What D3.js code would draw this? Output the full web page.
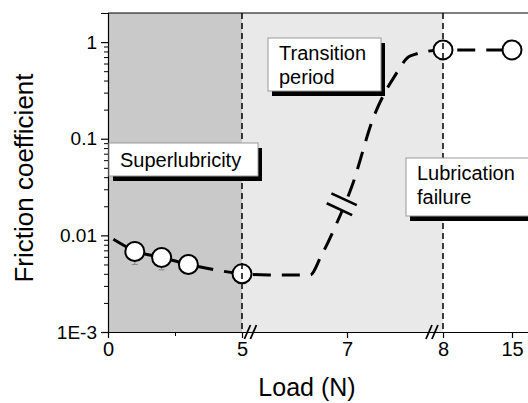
<!DOCTYPE html>
<html>
<head>
<meta charset="utf-8">
<script src="https://cdn.jsdelivr.net/npm/d3@7/dist/d3.min.js"></script>
<style>
  body { margin: 0; background: #fff; }
  svg { display: block; font-family: "Liberation Sans", Arial, sans-serif; }
</style>
</head>
<body>
<div id="chart"></div>
<script>
// Measured points (load in N, friction coefficient)
const loads = [1, 2, 3, 5, 8, 15];
const friction = [0.0068, 0.0059, 0.0050, 0.0040, 0.83, 0.83];
const frictionErr = [0.0018, 0.0015, 0.0002, 0.0002, 0.03, 0.12];

// Dashed guide curve drawn through the data
const curveLoad = [0.2, 1, 2, 3, 4, 5, 5.5, 6.3, 6.5, 6.76, 7.05, 7.28, 7.5, 7.66, 8, 15];
const curveMu = [0.0091, 0.0069, 0.0059, 0.0050, 0.0044, 0.0040, 0.0039, 0.0039, 0.0060, 0.0118, 0.032, 0.17, 0.45, 0.72, 0.83, 0.83];

// Broken x axis: breakpoints and tick labels
const xBreaks = [0, 5, 7, 8, 15];
const xTicks = [0, 5, 7, 8, 15];
const xMinorTicks = [2.5];
const yTicks = [0.001, 0.01, 0.1, 1];
const yTickLabels = ['1E-3', '0.01', '0.1', '1'];

// Shaded regimes
const regions = [
    { from: 0, to: 5, fill: '#c9c9c9' },
    { from: 5, to: 8, fill: '#e9e9e9' }
];
const regionLines = [5, 8];
const axisBreaks = [5.16, 7.885];
const curveBreak = { load: 6.9, mu: 0.021 };

(function () {
const W = 528, H = 403;
const svg = d3.select('#chart').append('svg')
    .attr('width', W)
    .attr('height', H);

const x = d3.scaleLinear()
    .domain(xBreaks)
    .range([108, 242, 347, 443, 512]);
const y = d3.scaleLog()
    .domain([1e-3, 2])
    .range([332, 13]);

const pLeft = x(0), pRight = W + 5, pTop = y(2), pBottom = y(1e-3);

// Backgrounds
svg.append('g').selectAll('rect')
    .data(regions)
    .join('rect')
    .attr('x', d => x(d.from))
    .attr('y', pTop)
    .attr('width', d => x(d.to) - x(d.from))
    .attr('height', pBottom - pTop)
    .attr('fill', d => d.fill);

// Dashed guide curve
const line = d3.line()
    .x((d, i) => x(curveLoad[i]))
    .y(d => y(d))
    .curve(d3.curveMonotoneX);

svg.append('path')
    .datum(curveMu)
    .attr('d', line)
    .attr('fill', 'none')
    .attr('stroke', '#000')
    .attr('stroke-width', 3)
    .attr('stroke-dasharray', '18,11');

// Break marks on the curve, perpendicular to it
{
    const cx = x(curveBreak.load), cy = y(curveBreak.mu);
    const g = svg.append('g')
        .attr('transform', `translate(${cx},${cy}) rotate(25)`);
    g.append('rect')
        .attr('x', -14).attr('y', -6).attr('width', 28).attr('height', 12)
        .attr('fill', '#e9e9e9');
    [-5.5, 5.5].forEach(o => {
        g.append('line')
            .attr('x1', -14).attr('x2', 14)
            .attr('y1', o).attr('y2', o)
            .attr('stroke', '#000')
            .attr('stroke-width', 2.6);
    });
}

// Error bars
const errG = svg.append('g').attr('stroke', '#888').attr('stroke-width', 1);
loads.forEach((l, i) => {
    const cx = x(l);
    const y0 = y(friction[i] - frictionErr[i]), y1 = y(friction[i] + frictionErr[i]);
    errG.append('line').attr('x1', cx).attr('x2', cx).attr('y1', y0).attr('y2', y1);
    errG.append('line').attr('x1', cx - 3).attr('x2', cx + 3).attr('y1', y0).attr('y2', y0);
    errG.append('line').attr('x1', cx - 3).attr('x2', cx + 3).attr('y1', y1).attr('y2', y1);
});

// Data circles
svg.append('g').selectAll('circle')
    .data(loads)
    .join('circle')
    .attr('cx', d => x(d))
    .attr('cy', (d, i) => y(friction[i]))
    .attr('r', 9.5)
    .attr('fill', '#fff')
    .attr('stroke', '#000')
    .attr('stroke-width', 2);

// Regime boundaries
svg.append('g').selectAll('line')
    .data(regionLines)
    .join('line')
    .attr('x1', d => x(d)).attr('x2', d => x(d))
    .attr('y1', pTop).attr('y2', pBottom)
    .attr('stroke', '#000')
    .attr('stroke-width', 1.5)
    .attr('stroke-dasharray', '6,4');

// Frame line on top
svg.append('line')
    .attr('x1', pLeft).attr('x2', pRight)
    .attr('y1', pTop).attr('y2', pTop)
    .attr('stroke', '#000').attr('stroke-width', 1.2);

// Y axis
const yAxis = svg.append('g')
    .attr('transform', `translate(${pLeft},0)`)
    .call(d3.axisLeft(y)
        .tickValues(yTicks)
        .tickFormat((d, i) => yTickLabels[i])
        .tickSize(7)
        .tickPadding(4));
const yMinor = [];
yTicks.forEach(dec => {
    for (let k = 2; k <= 9; k++) if (dec * k <= 2) yMinor.push(dec * k);
});
svg.append('g')
    .attr('transform', `translate(${pLeft},0)`)
    .call(d3.axisLeft(y).tickValues(yMinor).tickFormat('').tickSize(4))
    .call(g => g.select('.domain').remove());

// X axis
const xAxis = svg.append('g')
    .attr('transform', `translate(0,${pBottom})`)
    .call(d3.axisBottom(x)
        .tickValues(xTicks)
        .tickFormat(d3.format('d'))
        .tickSize(6)
        .tickPadding(4));
xAxis.select('.domain')
    .attr('d', `M${pLeft},0.5H${pRight}`);
svg.append('g')
    .attr('transform', `translate(0,${pBottom})`)
    .call(d3.axisBottom(x).tickValues(xMinorTicks).tickFormat('').tickSize(4))
    .call(g => g.select('.domain').remove());

[yAxis, xAxis].forEach(a => {
    a.selectAll('.domain').attr('stroke-width', 1.2);
    a.selectAll('.tick line').attr('stroke-width', 1.2);
});
yAxis.selectAll('text').attr('font-size', 19).attr('fill', '#000')
    .attr('font-family', '"Liberation Sans", Arial, sans-serif');
xAxis.selectAll('text').attr('font-size', 20).attr('fill', '#000')
    .attr('font-family', '"Liberation Sans", Arial, sans-serif');

// Axis break marks
axisBreaks.forEach(b => {
    const cx = x(b);
    [-3, 3].forEach(o => {
        svg.append('line')
            .attr('x1', cx + o - 3).attr('x2', cx + o + 3)
            .attr('y1', pBottom + 7).attr('y2', pBottom - 7)
            .attr('stroke', '#000')
            .attr('stroke-width', 1.8);
    });
});

// Axis titles
svg.append('text')
    .attr('x', 307).attr('y', 396)
    .attr('text-anchor', 'middle')
    .attr('font-size', 25)
    .text('Load (N)');
svg.append('text')
    .attr('transform', 'translate(33,178) rotate(-90)')
    .attr('text-anchor', 'middle')
    .attr('font-size', 26)
    .text('Friction coefficient');

// Regime labels in shadowed boxes
const labels = [
    { lines: ['Superlubricity'], x: 109, y: 143, w: 149, h: 33 },
    { lines: ['Transition', 'period'], x: 268, y: 38, w: 113, h: 53 },
    { lines: ['Lubrication', 'failure'], x: 406, y: 158, w: 130, h: 58 }
];
labels.forEach(l => {
    const g = svg.append('g');
    g.append('rect')
        .attr('x', l.x + 4).attr('y', l.y + 5)
        .attr('width', l.w).attr('height', l.h)
        .attr('fill', '#000');
    g.append('rect')
        .attr('x', l.x).attr('y', l.y)
        .attr('width', l.w).attr('height', l.h)
        .attr('fill', '#fff')
        .attr('stroke', '#999')
        .attr('stroke-width', 1);
    l.lines.forEach((t, i) => {
        g.append('text')
            .attr('x', l.x + 11)
            .attr('y', l.y + (l.lines.length === 1 ? 24 : 22 + i * 24))
            .attr('font-size', 20)
            .text(t);
    });
});
})();
</script>
</body>
</html>
